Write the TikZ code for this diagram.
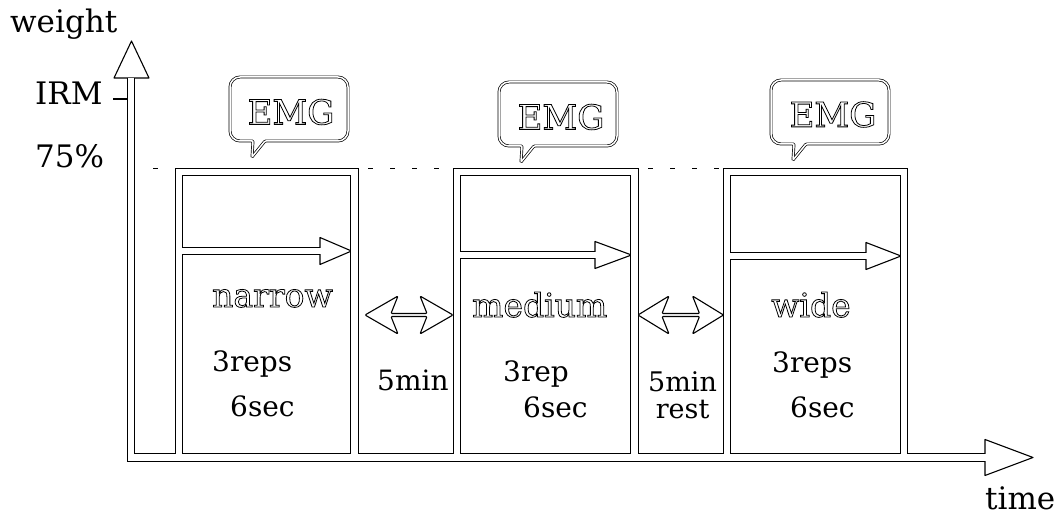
\documentclass[tikz,border=0pt]{standalone}
\usepackage{fontspec}
\setmainfont{DejaVu Serif}
\newcommand{\hollow}[1]{\special{pdf:literal direct 1 Tr 0.8 w}#1\special{pdf:literal direct 0 Tr}}

\tikzset{
    rim/.style={line width=8.4pt, line join=miter},
    gap/.style={line width=6.2pt, white, line join=miter, shorten >=-1.2pt},
    head/.style={draw, fill=white, line width=1.1pt, line join=round},
    bubble/.style={draw, double, double distance=1.5pt, line width=0.7pt},
    lbl/.style={anchor=base west, inner sep=0pt, font=\fontsize{31}{36}\selectfont},
    grip/.style={anchor=base west, inner sep=0pt, font=\fontsize{33}{38}\selectfont},
    small/.style={anchor=base west, inner sep=0pt, font=\fontsize{28}{32}\selectfont},
    emg/.style={inner sep=0pt, font=\fontsize{34}{38}\selectfont},
    dashline/.style={line width=1.6pt, dash pattern=on 5pt off 17pt}
}

\begin{document}
\begin{tikzpicture}[x=1pt, y=1pt]
    \useasboundingbox (0,0) rectangle (1062,516);

    % hollow arrow heads
    \draw[head] (114,438)--(131.5,475)--(149,438)--cycle;
    \draw[head] (985,76.5)--(1033,58.5)--(985,40.5)--cycle;
    \draw[head] (320,278.5)--(351.5,265)--(320,251.5)--cycle;
    \draw[head] (595,274.5)--(631.5,261)--(595,247.5)--cycle;
    \draw[head] (866,273.5)--(901,260)--(866,246.5)--cycle;

    % axes, pulses and inner arrows as white strokes
    \foreach \layer in {rim,gap}{
        \draw[style=\layer] (131,438)--(131,58.5)--(985,58.5);
        \draw[style=\layer] (179,58.5)--(179,344)--(354.5,344)--(354.5,58.5);
        \draw[style=\layer] (457,58.5)--(457,344)--(634.5,344)--(634.5,58.5);
        \draw[style=\layer] (727,58.5)--(727,344)--(904,344)--(904,58.5);
        \draw[style=\layer] (179,265)--(320,265);
        \draw[style=\layer] (457,261)--(595,261);
        \draw[style=\layer] (727,260)--(866,260);
    }

    % 75% level
    \draw[dashline] (153,347.5)--(172,347.5);
    \draw[dashline] (368,347.5)--(440,347.5);
    \draw[dashline] (648,347.5)--(720,347.5);
    \draw[line width=1.1pt] (113,417)--(127.5,417);

    % rest arrows
    \draw[head, rounded corners=1pt] (365,201)--(398,220)--(391,202.5)--(427,202.5)--(420,220)--(453,201)
        --(420,182)--(427,199.5)--(391,199.5)--(398,182)--cycle;
    \draw[head, rounded corners=1pt] (638,201)--(669,220)--(662,202.5)--(699.5,202.5)--(692.5,220)--(723.5,201)
        --(692.5,182)--(699.5,199.5)--(662,199.5)--(669,182)--cycle;

    % EMG callouts
    \foreach \cx/\cy in {289/407, 558/402, 830/404}{
        \draw[bubble] (\cx-59,\cy) [rounded corners=10pt]--(\cx-59,\cy+32)--(\cx+59,\cy+32)--(\cx+59,\cy-32)
            [rounded corners=1pt]--(\cx-24,\cy-32)--(\cx-37,\cy-48)--(\cx-36,\cy-32)
            [rounded corners=10pt]--(\cx-59,\cy-32)--cycle;
    }
    \node[emg] (emgA) at (291,404) {\hollow{EMG}};
    \node[emg] (emgB) at (561,399) {\hollow{EMG}};
    \node[emg] (emgC) at (833,401.5) {\hollow{EMG}};

    % labels
    \node[lbl] (weight) at (10,483) {weight};
    \node[lbl] (irm) at (35,411) {IRM};
    \node[lbl] (pct) at (35,348) {75\%};
    \node[lbl] (time) at (985,6) {time};

    \node[grip] (narrow) at (212,209) {\hollow{narrow}};
    \node[small] (repsA) at (212,144) {3reps};
    \node[small] (secA) at (230,99) {6sec};
    \node[small] (restA) at (377,125) {5min};

    \node[grip] (medium) at (472,199) {\hollow{medium}};
    \node[small] (repsB) at (503,134) {3rep};
    \node[small] (secB) at (523,98) {6sec};
    \node[small, align=center, font=\fontsize{27}{27}\selectfont] (restB) at (648,97) {5min\\rest};

    \node[grip] (wide) at (771,199) {\hollow{wide}};
    \node[small] (repsC) at (772,143) {3reps};
    \node[small] (secC) at (790,98) {6sec};
\end{tikzpicture}
\end{document}
